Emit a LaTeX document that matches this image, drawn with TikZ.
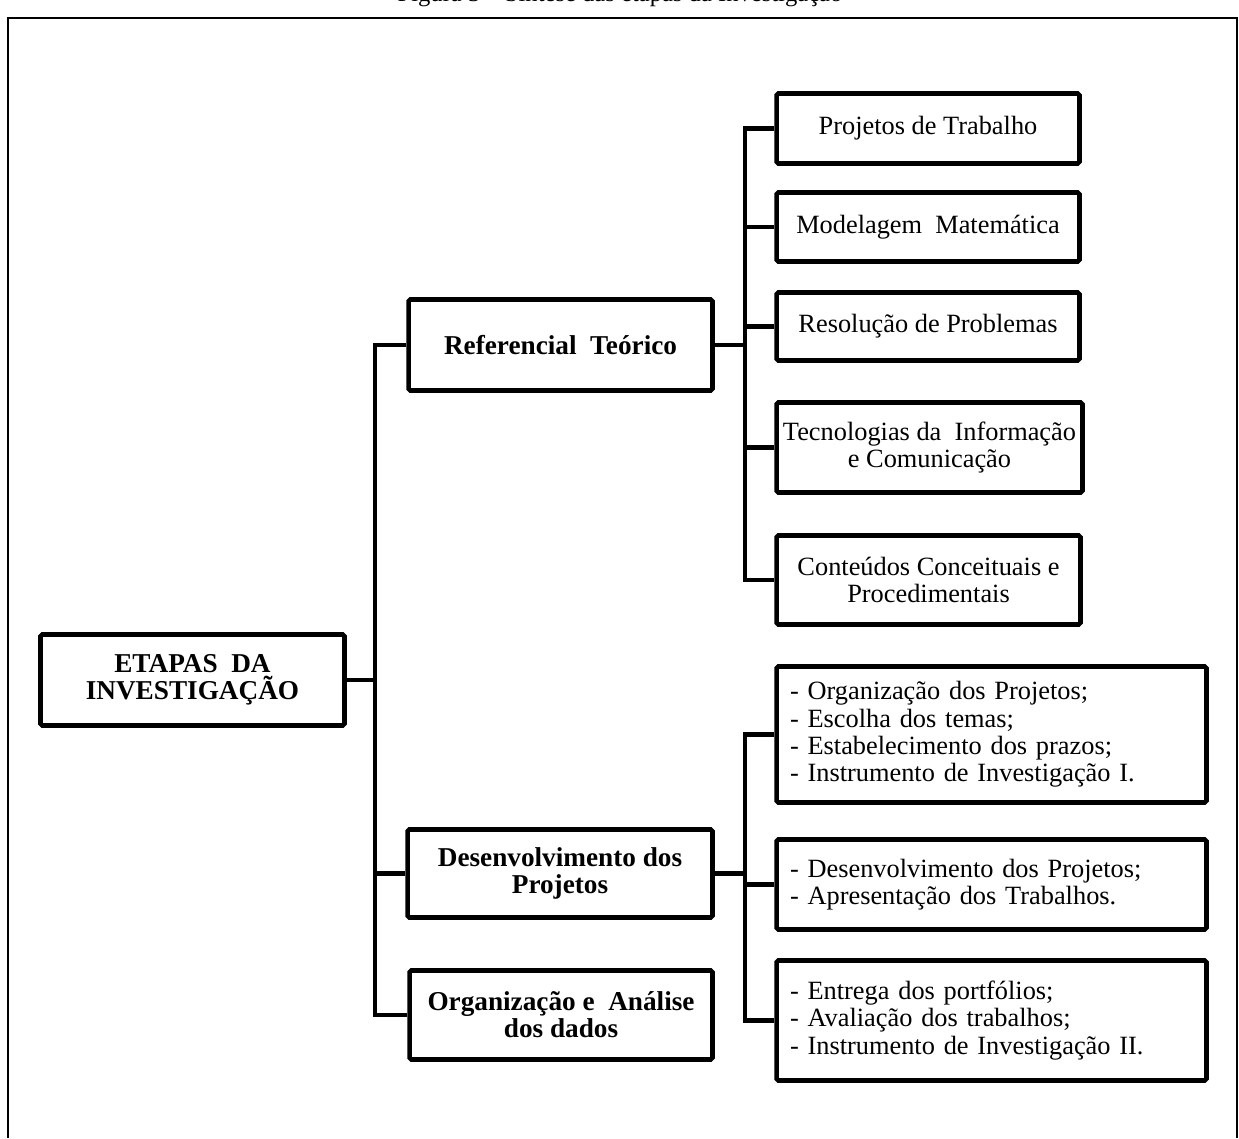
\documentclass[tikz,border=0pt]{standalone}
\usepackage{fontspec}
\setmainfont{Liberation Serif}
\usetikzlibrary{positioning}

\begin{document}
\begin{tikzpicture}[x=0.02cm,y=-0.02cm,
  caixa/.style={draw, line width=2.6pt, rounded corners=1pt, align=center, inner sep=2pt, font=\fontsize{15}{15.5}\selectfont},
  forte/.style={caixa, font=\fontsize{15.5}{15.5}\selectfont\bfseries},
  lista/.style={caixa, align=left, inner xsep=0.27cm, text width=8.06cm},
  liga/.style={line width=2.6pt}]
\useasboundingbox (0,0) rectangle (1239,1138);
% moldura e legenda (cortada no alto)
\draw[line width=0.6pt] (8,1138) -- (8,18) -- (1237,18) -- (1237,1138);
\node[anchor=base, inner sep=0pt, font=\fontsize{14}{14}\selectfont] (titulo) at (620,2) {Figura 3 -- Síntese das etapas da Investigação};

% etapas
\node[forte, minimum width=6.08cm, minimum height=1.82cm] (etapas) at (192.5,680) {ETAPAS \ DA\\INVESTIGAÇÃO};
\node[forte, minimum width=6.08cm, minimum height=1.82cm] (ref) at (560.5,345) {Referencial \ Teórico};
\node[forte, minimum width=6.1cm, minimum height=1.76cm] (desen) at (560,873.5) {Desenvolvimento dos\\Projetos};
\node[forte, minimum width=6.06cm, minimum height=1.78cm] (dados) at (561,1015) {Organização e \ Análise\\dos dados};

% referencial
\node[caixa, minimum width=6.06cm, minimum height=1.4cm] (trab) at (928,128.5) {Projetos de Trabalho};
\node[caixa, minimum width=6.06cm, minimum height=1.38cm] (model) at (928,227) {Modelagem \ Matemática};
\node[caixa, minimum width=6.06cm, minimum height=1.36cm] (resol) at (928,326.5) {Resolução de Problemas};
\node[caixa, minimum width=6.12cm, minimum height=1.8cm] (tic) at (929.5,447.5) {Tecnologias da \ Informação\\e Comunicação};
\node[caixa, minimum width=6.08cm, minimum height=1.78cm] (cont) at (928.5,580) {Conteúdos Conceituais e\\Procedimentais};

% desenvolvimento
\node[lista, minimum height=2.72cm] (orgproj) at (991.5,734.5) {- Organização dos Projetos;\\- Escolha dos temas;\\- Estabelecimento dos prazos;\\- Instrumento de Investigação I.};
\node[lista, minimum height=1.8cm] (desproj) at (991.5,884.5) {- Desenvolvimento dos Projetos;\\- Apresentação dos Trabalhos.};
\node[lista, minimum height=2.4cm] (entrega) at (991.5,1020.5) {- Entrega dos portfólios;\\- Avaliação dos trabalhos;\\- Instrumento de Investigação II.};

% ligacoes
\coordinate (jA) at (375,680);
\coordinate (jB) at (745,345);
\coordinate (jC) at (745,873.5);
\draw[liga] (etapas) -- (jA);
\foreach \n in {ref,desen,dados}
  \draw[liga] (\n.west) -| (jA);
\draw[liga] (ref) -- (jB);
\foreach \n in {trab,model,resol,tic,cont}
  \draw[liga] (\n.west) -| (jB);
\draw[liga] (desen) -- (jC);
\foreach \n in {orgproj,desproj,entrega}
  \draw[liga] (\n.west) -| (jC);
\end{tikzpicture}
\end{document}
